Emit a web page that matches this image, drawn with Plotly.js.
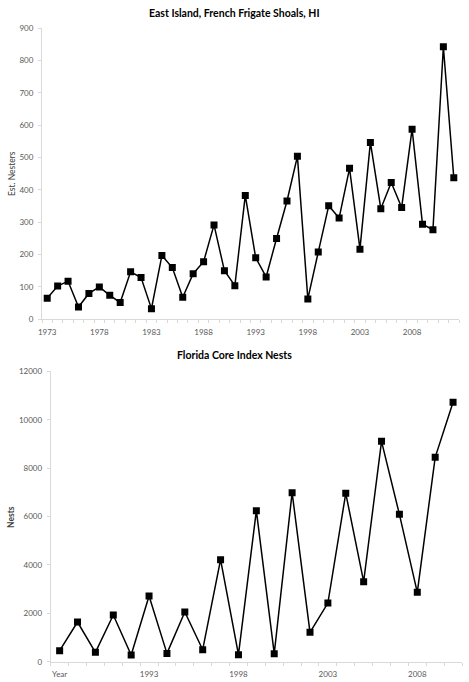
<!DOCTYPE html>
<html>
<head>
<meta charset="utf-8">
<script src="https://cdn.plot.ly/plotly-3.0.1.min.js"></script>
<style>html,body{margin:0;padding:0;background:#fff;}#chart{width:469px;height:682px;}</style>
</head>
<body>
<div id="chart"></div>
<script>
// Top chart: East Island, French Frigate Shoals, HI
const eiYears = [1973,1974,1975,1976,1977,1978,1979,1980,1981,1982,1983,1984,1985,1986,1987,1988,1989,1990,1991,1992,1993,1994,1995,1996,1997,1998,1999,2000,2001,2002,2003,2004,2005,2006,2007,2008,2009,2010,2011,2012];
const eiNesters = [65,103,118,38,80,100,74,52,147,129,33,197,160,68,141,178,292,150,104,383,190,131,250,366,504,63,208,351,313,467,217,547,342,423,346,588,294,277,843,438];
const eiTickVals = [1973,1978,1983,1988,1993,1998,2003,2008];
const eiTickText = ["1973","1978","1983","1988","1993","1998","2003","2008"];

// Bottom chart: Florida Core Index Nests (first category is the "Year" header row)
const flYears = [1988,1989,1990,1991,1992,1993,1994,1995,1996,1997,1998,1999,2000,2001,2002,2003,2004,2005,2006,2007,2008,2009,2010];
const flNests = [455,1640,386,1929,276,2714,344,2053,496,4216,289,6241,331,6985,1212,2425,6957,3307,9107,6090,2866,8446,10719];
const flTickVals = [1988,1993,1998,2003,2008];
const flTickText = ["Year","1993","1998","2003","2008"];

const W = 469, H = 682;
const px = v => v / W;
const py = v => 1 - v / H;

const tickFont = {family: "Lato, 'Open Sans', sans-serif", size: 8, color: "#595959"};
const axisCol = "#d9d9d9";

const lineStyle = {color: "#000", width: 1.5};
const markerStyle = {symbol: "square", size: 7, color: "#000"};

const data = [
  {x: eiYears, y: eiNesters, type: "scatter", mode: "lines+markers", line: lineStyle, marker: markerStyle, xaxis: "x", yaxis: "y", hoverinfo: "x+y"},
  {x: flYears, y: flNests, type: "scatter", mode: "lines+markers", line: lineStyle, marker: markerStyle, xaxis: "x2", yaxis: "y2", hoverinfo: "x+y"}
];

function xAxis(domain, range, tv, tt, anchor) {
  return {
    domain: domain, range: range, anchor: anchor, automargin: false,
    tickmode: "array", tickvals: tv, ticktext: tt, ticks: "",
    ticklabelstandoff: 5,
    tickfont: tickFont, showgrid: false, zeroline: false,
    showline: true, linecolor: axisCol, linewidth: 1,
    minor: {ticks: "outside", tickmode: "linear", tick0: range[0], dtick: 1, ticklen: 3, tickcolor: axisCol, showgrid: false},
    fixedrange: true
  };
}
function yAxis(domain, range, dtick, anchor) {
  return {
    domain: domain, range: range, anchor: anchor, automargin: false,
    tickmode: "linear", tick0: 0, dtick: dtick, ticks: "outside", ticklen: 3, tickcolor: axisCol,
    tickformat: "d", ticklabelstandoff: 3,
    tickfont: tickFont, showgrid: false, zeroline: false,
    showline: true, linecolor: axisCol, linewidth: 1, fixedrange: true
  };
}

const layout = {
  width: W, height: H,
  margin: {l: 0, r: 0, t: 0, b: 0},
  paper_bgcolor: "#fff", plot_bgcolor: "#fff",
  showlegend: false,
  font: {family: "Lato, 'Open Sans', sans-serif"},
  xaxis: xAxis([px(42), px(459)], [1972.5, 2012.5], eiTickVals, eiTickText, "y"),
  yaxis: yAxis([py(319.3), py(28.3)], [0, 900], 100, "x"),
  xaxis2: xAxis([px(50.7), px(462)], [1987.5, 2010.5], flTickVals, flTickText, "y2"),
  yaxis2: yAxis([py(661.7), py(371.3)], [0, 12000], 2000, "x2"),
  annotations: [
    {text: "<b>East Island, French Frigate Shoals, HI</b>", xref: "paper", yref: "paper", x: px(234.5), y: py(13.5), showarrow: false, xanchor: "center", yanchor: "middle", font: {family: "Lato, sans-serif", size: 10.5, color: "#000"}},
    {text: "<b>Florida Core Index Nests</b>", xref: "paper", yref: "paper", x: px(234.5), y: py(355), showarrow: false, xanchor: "center", yanchor: "middle", font: {family: "Lato, sans-serif", size: 10.5, color: "#000"}},
    {text: "Est. Nesters", xref: "paper", yref: "paper", x: px(12), y: py(174), textangle: -90, showarrow: false, xanchor: "center", yanchor: "middle", font: {family: "Lato, sans-serif", size: 8.5, color: "#404040"}},
    {text: "<b>Nests</b>", xref: "paper", yref: "paper", x: px(11), y: py(517), textangle: -90, showarrow: false, xanchor: "center", yanchor: "middle", font: {family: "Lato, sans-serif", size: 8.5, color: "#404040"}}
  ]
};

Plotly.newPlot("chart", data, layout, {displayModeBar: false, staticPlot: true});
</script>
</body>
</html>
